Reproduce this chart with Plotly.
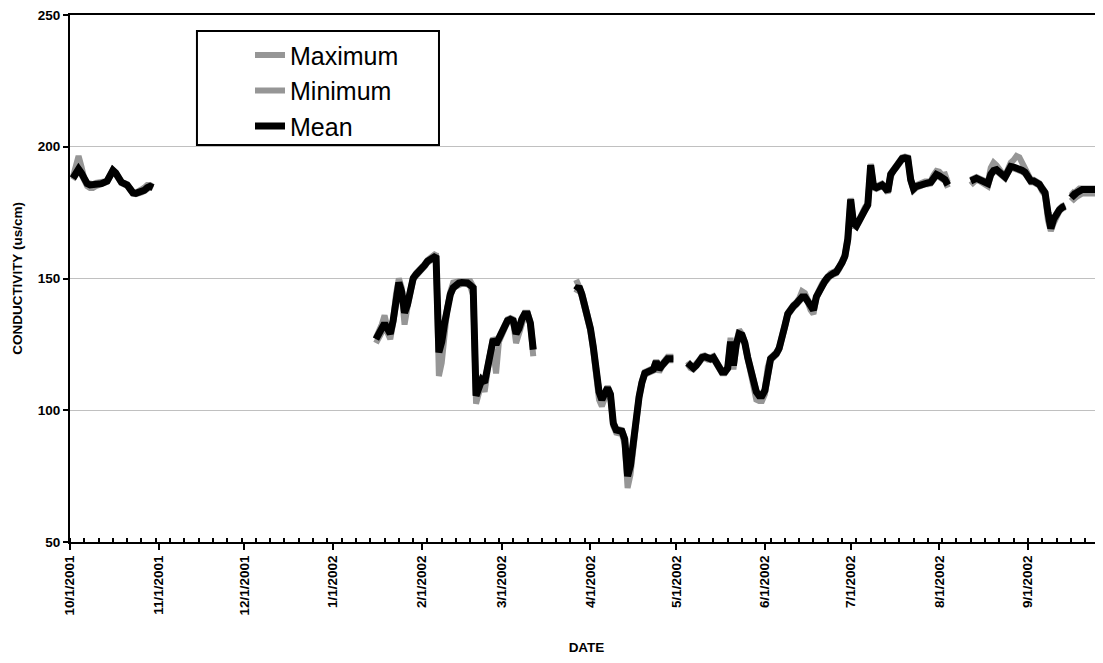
import pandas as pd
import plotly.graph_objects as go

# ---------------- data (daily readings, conductivity in us/cm) ----------------
# each segment is a run of consecutive daily values beginning at its start date
seg_starts = ["2001-10-02", "2002-01-16", "2002-03-27", "2002-05-05", "2002-08-12", "2002-09-16"]

mean_seg1 = [188, 190, 191.5, 190, 187.5, 186, 185.5, 185.5, 186, 186, 186, 186.5, 187, 189, 191,
             190, 188, 186.5, 186, 185.5, 184, 182.5, 182.3, 182.5, 183, 183.5, 184.5, 185, 184.5]
max_seg1 = [188.5, 193, 196.5, 192.5, 188, 186.3, 185.8, 185.8, 186.3, 186.3, 186.3, 186.8, 187.3, 189.3, 191.3,
            190.3, 188.3, 186.8, 186.3, 185.8, 184.3, 182.8, 182.6, 183, 183.8, 184.5, 185.5, 185.5, 184.8]
min_seg1 = [187.5, 189.5, 191, 189.5, 186.8, 185, 184.3, 184.3, 185, 185.5, 185.6, 186.2, 186.7, 188.7, 190.7,
            189.7, 187.7, 186.2, 185.7, 185.2, 183.7, 182.2, 182, 182.2, 182.7, 183.2, 184.2, 184.7, 184.2]

mean_seg2 = [127, 129, 130.8, 133, 131, 129, 134, 142, 148.5, 145, 137, 140, 145, 150, 151.5, 152.5,
             153.5, 155, 156.5, 157.5, 158, 158.6, 122, 126, 133, 140, 144, 146.5, 147.5, 148.3, 148.5,
             148.5, 148.3, 147.5, 146.5, 105.5, 108.5, 111.5, 110.5, 117, 123, 127, 125, 127, 129.5,
             132, 134, 134.5, 134, 129, 131, 134.5, 136.5, 136.5, 133, 123]
max_seg2 = [127.5, 129.5, 132.5, 136, 131.5, 129.5, 134.5, 144, 150, 146.5, 137.5, 140.5, 145.5, 150.5, 152, 153,
            154, 155.5, 157, 158, 159, 159.5, 122.5, 126.5, 133.5, 140.5, 145, 148.5, 149, 149, 149,
            149, 149, 149, 147, 106, 109, 112, 111, 117.5, 123.5, 127.5, 125.5, 127.5, 130,
            132.5, 134.5, 135, 134.5, 129.5, 131.5, 135, 137, 137, 133.5, 123.5]
min_seg2 = [125.5, 127.5, 130, 131.5, 129.5, 127, 133, 141, 147.5, 144, 132.5, 139, 144.5, 149.5, 151, 152,
            153, 154.5, 156, 157, 157.5, 158, 113, 118, 131, 139, 143.5, 146, 147, 147.8, 148,
            148, 147.8, 147, 143.5, 102.5, 107, 110.5, 107, 115, 122, 123, 114, 126, 129,
            131.5, 133.5, 134, 133.5, 125.5, 129.5, 134, 136, 136, 132.5, 120.5]

mean_seg3 = [145.5, 147, 144, 140, 135.5, 131, 124, 115, 107, 104, 106, 108.5, 106, 95, 92.5, 92.5,
             92, 89, 75, 79, 88, 98.5, 105, 110.5, 114, 114.5, 115, 115.5, 118.5, 115.5, 117, 118.5,
             119.5, 119.5, 119.5]
max_seg3 = [149.5, 147.5, 144.5, 140.5, 136, 131.5, 124.5, 115.5, 107.5, 104.5, 106.5, 109, 106.5, 95.5, 93, 93,
            92.5, 89.5, 75.5, 79.5, 88.5, 99, 105.5, 111, 114.5, 115, 115.5, 116, 119, 116, 117.5, 119,
            120.3, 120.3, 120.3]
min_seg3 = [144.5, 146.5, 143, 139, 134.5, 130, 122.5, 113, 104, 101.5, 104.5, 107.5, 105, 94, 91.5, 91.5,
            91, 87, 70.5, 75.5, 87, 97.5, 104.5, 110, 113.5, 114, 114.5, 115, 118, 114.5, 116.5, 118,
            119, 119, 119]

mean_seg4 = [118, 116.5, 116, 117, 118.5, 120, 120.3, 119.7, 119.5, 120,
             118, 116, 114.5, 114.5, 116, 126, 117, 125, 129, 128.5,
             125.5, 120, 115, 112, 107, 105.5, 105.5, 107.5, 116, 119.5,
             120.5, 121.5, 123.5, 127, 132, 136.5, 138.5, 139.5, 140.5, 141.5,
             143, 143, 141.5, 139.5, 138, 143, 145.5, 147.5, 149, 150.5,
             151.5, 152, 152.5, 154, 156, 158.5, 165, 180, 171, 170,
             172, 174.5, 176.5, 178, 193, 185, 184.5, 185, 185.5, 184.5,
             183, 189.5, 191.5, 192.5, 194, 195.5, 195.8, 195.5, 187.5, 184,
             185, 185.5, 186, 186.3, 186.3, 186.5, 188, 189.5, 189, 188,
             187.5, 185.5]
max_seg4 = [118.5, 117, 116.5, 117.5, 119, 120.5, 120.8, 120.2, 120, 120.5,
            118.5, 116.5, 115, 115, 116.5, 127.5, 117.5, 125.5, 130.5, 129,
            126, 120.5, 115.5, 112.5, 107.5, 106, 106, 108, 116.5, 120,
            121, 122, 124, 127.5, 132.5, 137, 139, 140, 141, 142.5,
            145.2, 144.5, 142, 140, 138.5, 143.5, 146, 148, 149.5, 151,
            152, 152.5, 153, 154.5, 156.5, 159, 165.5, 180.5, 171.5, 170.5,
            172.5, 175, 177, 178.5, 193.5, 185.5, 185, 185.5, 186, 185,
            183.5, 190, 192, 193, 194.5, 196, 196.3, 196, 188, 184.5,
            185.5, 186, 186.5, 186.8, 186.8, 187, 189.3, 190.8, 190.5, 189.3,
            189.5, 186.5]
min_seg4 = [117.5, 116, 115.5, 116.5, 118, 119.5, 119.8, 119.2, 119, 119.5,
            117.5, 115.5, 114, 114, 115.5, 123, 115.5, 124, 128.5, 128,
            125, 119.5, 114.5, 111, 104, 103.5, 103.5, 106, 113, 119,
            120, 121, 123, 126.5, 131.5, 136, 138, 139, 140, 141,
            142.5, 142.5, 141, 138, 136.5, 142.5, 145, 147, 148.5, 150,
            151, 151.5, 152, 153.5, 155.5, 158, 164, 178, 170, 169.5,
            171.5, 174, 176, 177.5, 190, 184.5, 184, 184.5, 185, 184,
            182.5, 188.5, 191, 192, 193.5, 195, 195.3, 195, 187, 183.5,
            184.5, 185, 185.5, 185.8, 185.8, 186, 187.5, 189, 188.5, 187.5,
            187, 184.5]

mean_seg5 = [187, 187.5, 188, 187.5, 187, 186.5, 186, 189.5, 191, 191.3, 190.5, 189.5, 188.5, 190.5,
             192.5, 192.3, 192, 191.7, 191, 190.3, 188, 187, 187, 186.5, 185.7, 184, 182.5, 175,
             169, 172.5, 174.5, 176, 177, 177.5]
max_seg5 = [187.5, 188, 188.5, 188, 187.5, 187, 186.5, 192, 194, 193, 191, 190, 189, 192,
            194, 195, 196.5, 196, 194, 191.5, 189, 187.5, 187.5, 187, 186.2, 184.5, 183, 175.5,
            169.5, 173, 175, 176.5, 177.5, 178]
min_seg5 = [185.5, 186.5, 187.5, 187, 186.5, 186, 185, 189, 190.5, 190.8, 190, 189, 188, 190,
            192, 191.8, 191.5, 191.2, 190.5, 189.8, 187.5, 186.5, 186.5, 186, 185.2, 183, 181.5, 172,
            168, 171, 173.5, 175.5, 176.5, 177]

mean_seg6 = [182.5, 181.5, 182.5, 183.5, 183.8, 183.8, 183.8, 183.8, 183.8, 183.8, 183.8, 183.8, 183.8, 183.8, 183.8]
max_seg6 = [183.2, 182.2, 183.2, 184.2, 184.2, 184.2, 184.2, 184.2, 184.2, 184.2, 184.2, 184.2, 184.2, 184.2, 184.2]
min_seg6 = [181, 180, 181, 182, 182.3, 182.3, 182.3, 182.3, 182.3, 182.3, 182.3, 182.3, 182.3, 182.3, 182.3]

mean_segs = [mean_seg1, mean_seg2, mean_seg3, mean_seg4, mean_seg5, mean_seg6]
max_segs = [max_seg1, max_seg2, max_seg3, max_seg4, max_seg5, max_seg6]
min_segs = [min_seg1, min_seg2, min_seg3, min_seg4, min_seg5, min_seg6]

month_ticks = ["2001-10-01", "2001-11-01", "2001-12-01", "2002-01-01", "2002-02-01", "2002-03-01",
               "2002-04-01", "2002-05-01", "2002-06-01", "2002-07-01", "2002-08-01", "2002-09-01"]
month_labels = ["10/1/2001", "11/1/2001", "12/1/2001", "1/1/2002", "2/1/2002", "3/1/2002",
                "4/1/2002", "5/1/2002", "6/1/2002", "7/1/2002", "8/1/2002", "9/1/2002"]


def join_segments(segs):
    xs, ys = [], []
    for start, vals in zip(seg_starts, segs):
        dates = pd.date_range(start, periods=len(vals), freq="D")
        xs.extend(list(dates))
        ys.extend(vals)
        xs.append(None)
        ys.append(None)
    return xs, ys


FONT = "Arial, 'Liberation Sans', Helvetica, sans-serif"
GRAY = "#969696"

fig = go.Figure()
for name, segs, color, width in [("Maximum", max_segs, GRAY, 6),
                                 ("Minimum", min_segs, GRAY, 6),
                                 ("Mean", mean_segs, "black", 7)]:
    xs, ys = join_segments(segs)
    fig.add_trace(go.Scatter(x=xs, y=ys, mode="lines", name=name,
                             line=dict(color=color, width=width),
                             connectgaps=False, hoverinfo="x+y+name"))

# the page body adds an 8px offset; margins compensate so the plot area sits at 70..1103 x 15..542
fig.update_layout(
    width=1103, height=663,
    margin=dict(l=62, r=8, t=7, b=129),
    paper_bgcolor="white", plot_bgcolor="white",
    font=dict(family=FONT, color="black"),
    showlegend=True,
    legend=dict(x=0.17425, y=0.9673, xanchor="left", yanchor="top",
                bgcolor="rgba(0,0,0,0)", borderwidth=0,
                font=dict(family=FONT, size=25, color="black"),
                traceorder="normal"),
    shapes=[dict(type="rect", xref="paper", yref="paper",
                 x0=0.1229, x1=0.3572, y0=0.7533, y1=0.9696,
                 line=dict(color="black", width=2), fillcolor="white", layer="above")],
)

fig.update_xaxes(
    type="date",
    range=["2001-10-01", "2002-09-27 06:00"],
    tickmode="array", tickvals=month_ticks, ticktext=month_labels,
    tickangle=-90,
    tickfont=dict(family=FONT, size=13.5, color="black", weight="bold"),
    ticks="outside", ticklen=6, tickwidth=2, tickcolor="black",
    minor=dict(ticks="inside", ticklen=4, tickwidth=2, tickcolor="black",
               dtick=5 * 86400000, tick0="2001-10-01", showgrid=False),
    showline=True, linewidth=2, linecolor="black", mirror=True,
    showgrid=False, zeroline=False, automargin=False, ticklabeloverflow="allow",
    title=dict(text="DATE", font=dict(family=FONT, size=13.5, color="black", weight="bold"), standoff=28),
)
fig.update_yaxes(
    range=[50, 250], tickmode="linear", tick0=50, dtick=50,
    tickfont=dict(family=FONT, size=13.5, color="black", weight="bold"),
    ticks="outside", ticklen=5, tickwidth=2, tickcolor="black",
    showline=True, linewidth=2, linecolor="black", mirror=False,
    showgrid=True, gridcolor="#c0c0c0", gridwidth=1, zeroline=False, automargin=False,
    ticklabeloverflow="allow",
    title=dict(text="CONDUCTIVITY (us/cm)", font=dict(family=FONT, size=13.5, color="black", weight="bold"), standoff=12),
)

fig.write_html("out.html")
